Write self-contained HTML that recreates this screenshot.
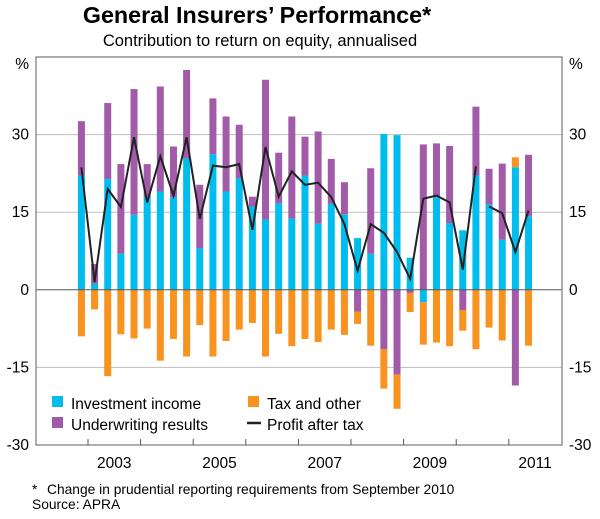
<!DOCTYPE html>
<html><head><meta charset="utf-8"><style>
body{margin:0;background:#fff;width:600px;height:514px;overflow:hidden;font-family:"Liberation Sans",sans-serif;}
svg text{font-family:"Liberation Sans",sans-serif;}
</style></head><body>
<svg id="c" width="600" height="514">
<text x="257" y="23" font-size="23.3" font-weight="bold" text-anchor="middle">General Insurers’ Performance*</text>
<text x="260" y="46" font-size="16.5" text-anchor="middle">Contribution to return on equity, annualised</text>
<g id="grid"></g><g id="bars"></g><g id="lines"></g><g id="axes"></g>
<g font-size="15.5">
<rect x="52" y="396" width="11" height="11" fill="#00bdf0"/>
<text x="71" y="409">Investment income</text>
<rect x="52" y="417" width="11" height="11" fill="#a25ba8"/>
<text x="71" y="430">Underwriting results</text>
<rect x="248" y="396" width="11" height="11" fill="#f7931e"/>
<text x="267" y="409">Tax and other</text>
<line x1="247" y1="423" x2="261" y2="423" stroke="#222" stroke-width="2.5"/>
<text x="267" y="430">Profit after tax</text>
</g>
<text x="32" y="494" font-size="13.8">*</text>
<text x="47" y="494" font-size="13.8">Change in prudential reporting requirements from September 2010</text>
<text x="32" y="509" font-size="13.8">Source: APRA</text>
</svg>
<script>
const investment=[22.1,1.2,21.4,7.0,14.5,17.9,19.0,17.9,25.4,8.0,26.2,19.0,21.6,16.1,13.6,16.7,13.8,22.1,12.8,16.6,14.6,10.0,7.0,30.1,29.9,6.2,-2.4,17.9,12.9,11.5,22.1,16.5,9.7,23.7,14.2];
const underwriting=[10.5,3.8,14.7,17.3,24.3,6.4,20.3,9.8,17.1,12.3,10.8,14.5,10.3,1.9,27.0,9.8,19.7,7.5,17.8,8.7,6.2,-4.2,16.5,-11.5,-16.4,-0.6,28.1,10.4,14.9,-3.9,13.3,6.9,14.7,-18.5,11.9];
const tax=[-9.0,-3.8,-16.7,-8.6,-9.4,-7.5,-13.7,-9.5,-12.9,-6.8,-12.9,-9.9,-7.7,-6.4,-12.9,-8.5,-10.9,-9.5,-10.1,-7.7,-8.7,-2.4,-10.8,-7.6,-6.6,-3.7,-8.2,-10.2,-10.9,-4.0,-11.5,-7.3,-9.8,1.9,-10.8];
const profit=[23.7,1.5,19.5,16.0,29.5,16.9,25.8,18.2,29.5,13.7,24.0,23.7,24.3,11.6,27.6,18.0,22.9,20.3,20.7,17.9,12.7,3.7,12.7,11.0,7.3,2.1,17.6,18.2,16.9,3.9,23.9,16.1,14.8,7.3,15.3];
const breakBefore=31;
const yTicks=[45,30,15,0,-15,-30];
const yTickLabels=["%","30","15","0","-15","-30"];
const yearLabels=["2003","2005","2007","2009","2011"];
const startYear=2002.75, nYearsTicks=[2003,2004,2005,2006,2007,2008,2009,2010,2011];
const L=36,R=562,T=57,B=445,yMin=-30,yMax=45;
const y=v=>B-(v-yMin)/(yMax-yMin)*(B-T);
const qw=13.15;
const xYear=t=>88+(t-2003)*qw*4;
const xBar=i=>xYear(startYear+i*0.25+0.125);
const NS="http://www.w3.org/2000/svg";
function mk(tag,attrs,parent){const e=document.createElementNS(NS,tag);for(const k in attrs)e.setAttribute(k,attrs[k]);parent.appendChild(e);return e;}
const grid=document.getElementById('grid'),bars=document.getElementById('bars'),lines=document.getElementById('lines'),axes=document.getElementById('axes');
yTicks.forEach((v,i)=>{
 if(v!==45&&v!==0&&v!==-30){const g=mk('line',{x1:L,x2:R,y1:y(v),y2:y(v),stroke:'#bdbdbd','stroke-width':1},grid);
 
 }
 const ty=v===45?y(v)+12:y(v)+5;
 const t1=mk('text',{x:L-7,y:ty,'font-size':15.5,'text-anchor':'end'},axes);t1.textContent=yTickLabels[i];
 
 
 const t2=mk('text',{x:R+7,y:ty,'font-size':15.5,'text-anchor':'start'},axes);t2.textContent=yTickLabels[i];
 
 
});
const bw=7;
investment.forEach((_,i)=>{
 let pos=0,neg=0;
 [[investment[i],'#00bdf0','bar-investment'],[underwriting[i],'#a25ba8','bar-underwriting'],[tax[i],'#f7931e','bar-tax']].forEach(([v,c,n])=>{
  let a,b;
  if(v>=0){a=pos;b=pos+v;pos=b;}else{a=neg+v;b=neg;neg=a;}
  const r=mk('rect',{x:xBar(i)-bw/2,y:y(b),width:bw,height:Math.max(0,y(a)-y(b)),fill:c},bars);
  
  
 });
});
let d1='',d2='';
profit.forEach((v,i)=>{const p=xBar(i).toFixed(1)+','+y(v).toFixed(1);
 if(i<breakBefore)d1+=(i?'L':'M')+p;else d2+=(i===breakBefore?'M':'L')+p;});
[d1,d2].forEach(d=>{const p=mk('path',{d:d,fill:'none',stroke:'#222','stroke-width':2},lines);
 
 });
const z=mk('line',{x1:L,x2:R,y1:y(0),y2:y(0),stroke:'#555','stroke-width':1},axes);


const f=mk('rect',{x:L,y:T,width:R-L,height:B-T,fill:'none',stroke:'#777','stroke-width':1.2},axes);


nYearsTicks.forEach(t=>{const l=mk('line',{x1:xYear(t),x2:xYear(t),y1:B,y2:B-6,stroke:'#555'},axes);
 
 });
yearLabels.forEach(s=>{const t=mk('text',{x:xYear(+s+0.5),y:B+23,'font-size':15.5,'text-anchor':'middle'},axes);t.textContent=s;
 
 });
</script>
</body></html>
